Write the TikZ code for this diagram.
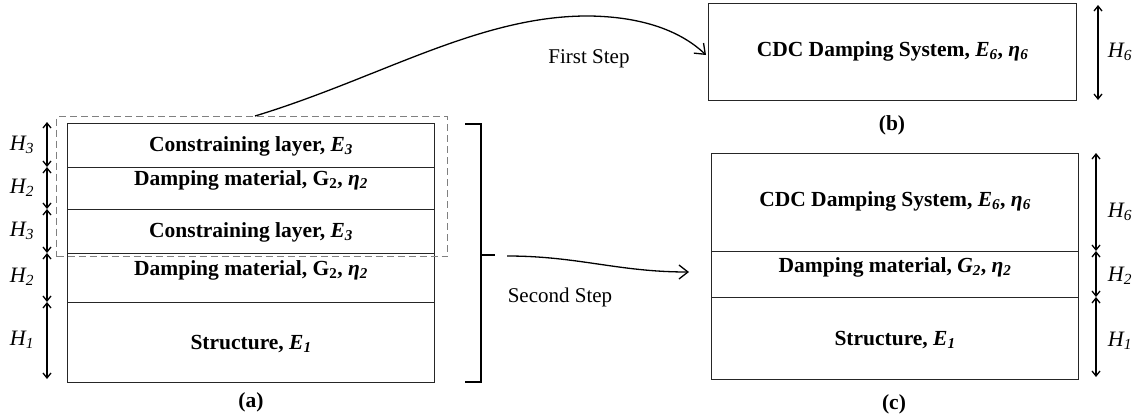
\documentclass[tikz,border=0pt]{standalone}
\usepackage{fontspec}
\setmainfont{Liberation Serif}
\usetikzlibrary{arrows.meta,calc}
\pgfdeclarehorizontalshading{edgeshade}{100bp}{color(0bp)=(gray!45); color(6bp)=(white); color(94bp)=(white); color(100bp)=(gray!45)}
\begin{document}
\begin{tikzpicture}[x=1pt,y=-1pt,
  every node/.style={font=\fontsize{21}{25}\selectfont, inner sep=0pt},
  layer/.style={draw=black!85, line width=1.1pt, minimum width=367pt, anchor=north west},
  shaded layer/.style={layer, shading=edgeshade},
  lbl/.style={font=\fontsize{21.5}{26}\selectfont\bfseries},
  hlbl/.style={font=\fontsize{22}{26}\selectfont\itshape},
  dim/.style={line width=1.3pt, {Straight Barb[length=5pt,width=8pt]}-{Straight Barb[length=5pt,width=8pt]}},
  conn/.style={line width=1.3pt, -{Straight Barb[length=9pt,width=14pt,line width=1.3pt]}},
  bracket/.style={line width=1.2pt}
]
\useasboundingbox (0,0) rectangle (1133,418);

% ---------- (a) ----------
\node[shaded layer, minimum height=44pt] (c3a) at (67,123) {};
\node[layer, minimum height=42pt] (d2a) at (67,167) {};
\node[shaded layer, minimum height=44pt] (c3b) at (67,209) {};
\node[layer, minimum height=49pt] (d2b) at (67,253) {};
\node[layer, minimum height=80pt] (s1a) at (67,302) {};

\node[lbl] (tc3a) at ($(c3a.center)+(0,1)$) {Constraining layer, \textit{E\textsubscript{3}}};
\node[lbl] (td2a) at ($(d2a.center)+(0,-8)$) {Damping material, G\textsubscript{2}, \textit{η\textsubscript{2}}};
\node[lbl] (tc3b) at ($(c3b.center)+(0,1)$) {Constraining layer, \textit{E\textsubscript{3}}};
\node[lbl] (td2b) at ($(d2b.center)+(0,-8)$) {Damping material, G\textsubscript{2}, \textit{η\textsubscript{2}}};
\node[lbl] (ts1a) at ($(s1a.center)+(0,1)$) {Structure, \textit{E\textsubscript{1}}};
\node[lbl] (capa) at (251,402) {(a)};

\node[draw=gray, dashed, dash pattern=on 7pt off 4pt, line width=1pt,
      minimum width=391pt, minimum height=140pt, anchor=north west] (dash) at (56,116) {};

% dimension arrows (a)
\coordinate (a0) at (47,122);
\coordinate (a1) at (47,167);
\coordinate (a2) at (47,209);
\coordinate (a3) at (47,253);
\coordinate (a4) at (47,302);
\coordinate (a5) at (47,379);
\draw[dim] (a0) -- (a1);
\draw[dim] (a1) -- (a2);
\draw[dim] (a2) -- (a3);
\draw[dim] (a3) -- (a4);
\draw[dim] (a4) -- (a5);
\node[hlbl] (ha3a) at (22,145) {H\textsubscript{3}};
\node[hlbl] (ha2a) at (22,188) {H\textsubscript{2}};
\node[hlbl] (ha3b) at (22,231) {H\textsubscript{3}};
\node[hlbl] (ha2b) at (22,277) {H\textsubscript{2}};
\node[hlbl] (ha1)  at (22,340) {H\textsubscript{1}};

% bracket
\coordinate (br1) at (465,124);
\coordinate (br2) at (481,124);
\coordinate (br3) at (481,382);
\coordinate (br4) at (465,382);
\coordinate (brm) at (481,255);
\coordinate (brt) at (495,255);
\draw[bracket] (br1) -- (br2) -- (br3) -- (br4);
\draw[bracket] (brm) -- (brt);

% ---------- (b) ----------
\node[shaded layer, minimum width=368pt, minimum height=97pt] (b) at (708,3) {};
\node[lbl] (tb) at ($(b.center)+(0,-1)$) {CDC Damping System, \textit{E\textsubscript{6}}, \textit{η\textsubscript{6}}};
\coordinate (b0) at (1098,5);
\coordinate (b1) at (1098,100);
\draw[dim] (b0) -- (b1);
\node[hlbl] (hb6) at (1120,52) {H\textsubscript{6}};
\node[lbl] (capb) at (892,125) {(b)};

% ---------- (c) ----------
\node[shaded layer, minimum height=98pt] (cdc) at (711,153) {};
\node[layer, minimum height=46pt] (d2c) at (711,251) {};
\node[layer, minimum height=82pt] (s1c) at (711,297) {};
\node[lbl] (tcdc) at ($(cdc.center)+(0,-1)$) {CDC Damping System, \textit{E\textsubscript{6}}, \textit{η\textsubscript{6}}};
\node[lbl] (td2c) at ($(d2c.center)+(0,-7)$) {Damping material, \textit{G\textsubscript{2}}, \textit{η\textsubscript{2}}};
\node[lbl] (ts1c) at ($(s1c.center)+(0,1)$) {Structure, \textit{E\textsubscript{1}}};
\coordinate (c0) at (1096,153);
\coordinate (c1) at (1096,251);
\coordinate (c2) at (1096,297);
\coordinate (c3) at (1096,377);
\draw[dim] (c0) -- (c1);
\draw[dim] (c1) -- (c2);
\draw[dim] (c2) -- (c3);
\node[hlbl] (hc6) at (1120,212) {H\textsubscript{6}};
\node[hlbl] (hc2) at (1120,276) {H\textsubscript{2}};
\node[hlbl] (hc1) at (1120,341) {H\textsubscript{1}};
\node[lbl] (capc) at (894,404) {(c)};

% ---------- connectors ----------
\coordinate (fs) at ($(dash.north)+(3,0)$);
\coordinate (fe) at (706,55);
\draw[conn] (fs) .. controls (380,78) and (480,15) .. (590,16)
                 .. controls (650,17) and (685,35) .. (fe);
\node (fst) at (589,59) {First Step};

\coordinate (ss) at (507,256);
\coordinate (se) at (689,272);
\draw[conn] (ss) to[out=0,in=180] (se);
\node (sst) at (560,297) {Second Step};
\end{tikzpicture}
\end{document}
